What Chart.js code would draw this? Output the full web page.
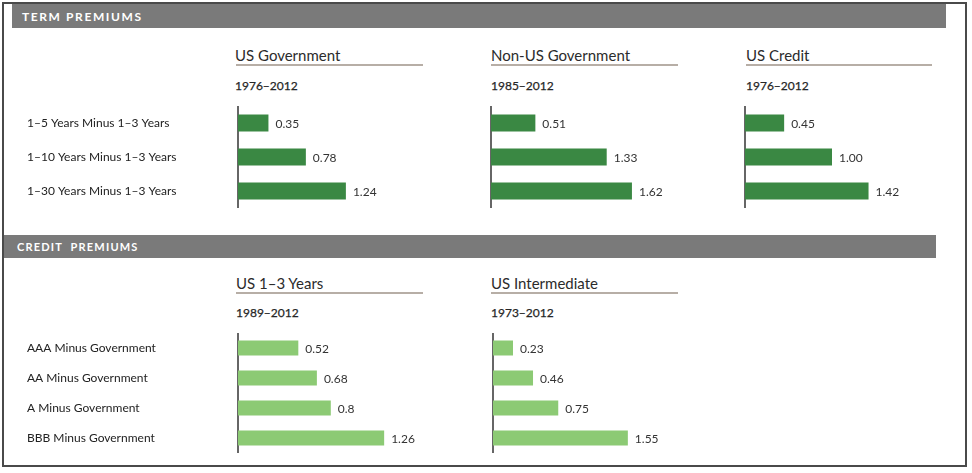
<!DOCTYPE html>
<html>
<head>
<meta charset="utf-8">
<script src="https://cdn.jsdelivr.net/npm/chart.js@4.4.0/dist/chart.umd.min.js"></script>
<style>
    body { margin: 0; width: 972px; height: 473px; background: #fff; position: relative; overflow: hidden; font-family: Lato, "Open Sans", sans-serif; color: #2b2b2b; }
    .frame { position: absolute; left: 2px; top: 2px; width: 965px; height: 465px; box-sizing: border-box; border: 2px solid #4a4a4a; }
    .hdr { position: absolute; background: #7a7a7a; color: #fff; font-weight: 700; box-sizing: border-box; }
    .title { position: absolute; font-size: 15px; line-height: 18px; color: #2b2b2b; white-space: nowrap; }
    .rule { position: absolute; height: 2px; background: #b7aea6; }
    .sub { position: absolute; font-size: 12px; line-height: 14px; color: #262626; -webkit-text-stroke: 0.25px #262626; white-space: nowrap; }
    canvas { position: absolute; }
</style>
</head>
<body>
<div class="frame"></div>

<div class="hdr" style="left:12px; top:4px; width:934px; height:24px; line-height:25px; padding-left:10px; font-size:12px; letter-spacing:1.6px;">TERM PREMIUMS</div>
<div class="hdr" style="left:4px; top:235px; width:932px; height:23px; line-height:23px; padding-left:13px; font-size:11px; letter-spacing:1.2px;">CREDIT&nbsp; PREMIUMS</div>

<div class="title" style="left:235px; top:46px;">US Government</div>
<div class="rule" style="left:236px; top:64px; width:187px;"></div>
<div class="sub" style="left:235px; top:79px;">1976–2012</div>

<div class="title" style="left:491px; top:46px;">Non-US Government</div>
<div class="rule" style="left:491px; top:64px; width:187px;"></div>
<div class="sub" style="left:491px; top:79px;">1985–2012</div>

<div class="title" style="left:746px; top:46px;">US Credit</div>
<div class="rule" style="left:746px; top:64px; width:186px;"></div>
<div class="sub" style="left:746px; top:79px;">1976–2012</div>

<div class="title" style="left:236px; top:274px;">US 1–3 Years</div>
<div class="rule" style="left:236px; top:292px; width:187px;"></div>
<div class="sub" style="left:236px; top:306px;">1989–2012</div>

<div class="title" style="left:491px; top:274px;">US Intermediate</div>
<div class="rule" style="left:491px; top:292px; width:187px;"></div>
<div class="sub" style="left:491px; top:306px;">1973–2012</div>

<canvas id="usGov" width="435" height="102" style="left:27px; top:106px;"></canvas>
<canvas id="nonUsGov" width="234" height="102" style="left:481px; top:106px;"></canvas>
<canvas id="usCredit" width="234" height="102" style="left:735px; top:106px;"></canvas>
<canvas id="us13" width="435" height="120" style="left:27px; top:333px;"></canvas>
<canvas id="usInter" width="234" height="120" style="left:483px; top:333px;"></canvas>

<script>
// Term premiums
const termLabels = ['1–5 Years Minus 1–3 Years', '1–10 Years Minus 1–3 Years', '1–30 Years Minus 1–3 Years'];
const usGovValues = [0.35, 0.78, 1.24];
const nonUsGovValues = [0.51, 1.33, 1.62];
const usCreditValues = [0.45, 1.00, 1.42];

// Credit premiums
const creditLabels = ['AAA Minus Government', 'AA Minus Government', 'A Minus Government', 'BBB Minus Government'];
const us13Values = [0.52, 0.68, 0.8, 1.26];
const usInterValues = [0.23, 0.46, 0.75, 1.55];

const darkGreen = '#3a8843';
const lightGreen = '#8cca74';

Chart.defaults.font.family = 'Lato, "Open Sans", sans-serif';

// draws the number just right of each bar end
function valueLabels(fmt) {
    return {
        id: 'valueLabels',
        afterDatasetsDraw(chart) {
            const ctx = chart.ctx;
            const values = chart.data.datasets[0].data;
            ctx.save();
            ctx.font = '12px Lato, "Open Sans", sans-serif';
            ctx.fillStyle = '#333';
            ctx.textBaseline = 'middle';
            chart.getDatasetMeta(0).data.forEach((bar, i) => {
                ctx.fillText(fmt(values[i]), bar.x + 7, bar.y + 1);
            });
            ctx.restore();
        }
    };
}

function drawPanel(id, labels, values, color, opts) {
    const ctx = document.getElementById(id).getContext('2d');
    return new Chart(ctx, {
        type: 'bar',
        data: {
            labels: labels,
            datasets: [{
                data: values,
                backgroundColor: color,
                borderWidth: 0,
                barPercentage: 0.5,
                categoryPercentage: 1
            }]
        },
        options: {
            indexAxis: 'y',
            responsive: false,
            animation: false,
            layout: {padding: {left: 0, right: opts.padRight, top: 0, bottom: 0}},
            plugins: {
                legend: {display: false},
                tooltip: {enabled: false}
            },
            scales: {
                x: {display: false, min: 0, max: opts.xMax},
                y: {
                    afterFit: s => {
                        // fixed gutter, and no extra room for the label heights
                        s.width = opts.axisWidth;
                        s.paddingTop = 0;
                        s.paddingBottom = 0;
                    },
                    grid: {display: false},
                    border: {display: true, color: '#666', width: 2},
                    ticks: {
                        display: opts.showLabels,
                        crossAlign: 'far',
                        color: '#222',
                        padding: 0,
                        font: {size: 12}
                    }
                }
            }
        },
        plugins: [valueLabels(opts.fmt || (v => v.toFixed(2)))]
    });
}

drawPanel('usGov', termLabels, usGovValues, darkGreen, {axisWidth: 211, xMax: 2, padRight: 50, showLabels: true});
drawPanel('nonUsGov', termLabels, nonUsGovValues, darkGreen, {axisWidth: 10, xMax: 2, padRight: 50, showLabels: false});
drawPanel('usCredit', termLabels, usCreditValues, darkGreen, {axisWidth: 10, xMax: 2, padRight: 50, showLabels: false});
drawPanel('us13', creditLabels, us13Values, lightGreen, {axisWidth: 211, xMax: 1.5, padRight: 50, showLabels: true, fmt: v => String(v)});
drawPanel('usInter', creditLabels, usInterValues, lightGreen, {axisWidth: 10, xMax: 2, padRight: 50, showLabels: false});
</script>
</body>
</html>
